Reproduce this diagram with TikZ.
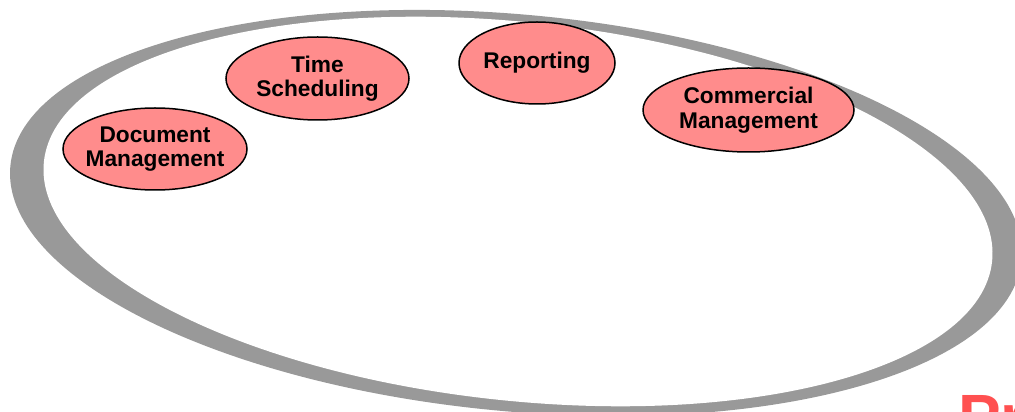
\documentclass[tikz,border=0pt]{standalone}
\usepackage{fontspec}
\setmainfont{Liberation Sans}
\usetikzlibrary{shapes.geometric}

\definecolor{ringgray}{RGB}{153,153,153}
\definecolor{modulepink}{RGB}{255,140,140}
\definecolor{titlered}{RGB}{255,80,80}

\tikzset{
  module/.style={ellipse, draw=black, line width=1.5pt, fill=modulepink,
    inner xsep=-6pt, inner ysep=0pt, align=center,
    font=\fontsize{22.7}{24.5}\selectfont\bfseries},
}

\begin{document}
\begin{tikzpicture}[x=1pt,y=1pt]
  \useasboundingbox (0,0) rectangle (1015,412);
  \clip (0,0) rectangle (1015,412);

  % crescent ring: grey ellipse with a white ellipse laid over it
  \coordinate (outerc) at (516,199);
  \coordinate (innerc) at (518,200.5);
  \fill[ringgray, rotate around={-5.3:(outerc)}]
    (outerc) ellipse [x radius=507.8pt, y radius=198.4pt];
  \fill[white, rotate around={-6:(innerc)}]
    (innerc) ellipse [x radius=476.7pt, y radius=189.3pt];

  % module bubbles
  \node[module, minimum width=184pt, minimum height=82pt] (doc)  at (155,263)     {Document\\Management};
  \node[module, minimum width=183pt, minimum height=83pt] (time) at (317.5,333.5) {Time\\Scheduling};
  \node[module, minimum width=156pt, minimum height=82pt] (rep)  at (537,349)     {Reporting};
  \node[module, minimum width=211pt, minimum height=84pt] (comm) at (748.5,302)   {Commercial\\Management};

  % title running off the lower edge
  \node[anchor=north west, inner sep=0pt, text=titlered,
        font=\fontsize{64}{70}\selectfont\bfseries] (title) at (958,17) {Pr};
\end{tikzpicture}
\end{document}
